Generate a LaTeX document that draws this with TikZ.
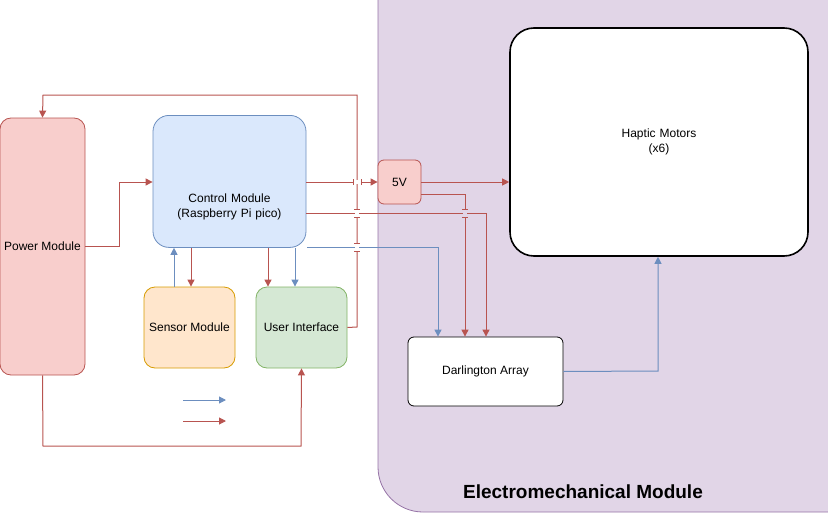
\documentclass[tikz,border=0pt]{standalone}
\usepackage{fontspec}
\setmainfont{Liberation Sans}
\usetikzlibrary{arrows.meta}
\definecolor{rd}{HTML}{B85450}
\definecolor{rdbg}{HTML}{F8CECC}
\definecolor{bl}{HTML}{6C8EBF}
\definecolor{blbg}{HTML}{DAE8FC}
\definecolor{pu}{HTML}{9673A6}
\definecolor{pubg}{HTML}{E1D5E7}
\definecolor{or}{HTML}{D79B00}
\definecolor{orbg}{HTML}{FFE6CC}
\definecolor{gr}{HTML}{82B366}
\definecolor{grbg}{HTML}{D5E8D4}
\tikzset{
 box/.style={draw,rounded corners=11pt,line width=0.8pt,font=\fontsize{12}{15}\selectfont,align=center,inner sep=0},
 rl/.style={draw=rd,line width=1pt,-{Triangle[length=7pt,width=7pt]}},
 bll/.style={draw=bl,line width=1pt,-{Triangle[length=7pt,width=7pt]}},
}
\newcommand{\vgap}[3]{%
 \fill[#3] (#1-2,#2-4) rectangle (#1+2,#2+4);
 \draw[rd,line width=1pt] (#1-3,#2-4)--(#1+3,#2-4) (#1-3,#2+4)--(#1+3,#2+4);}
\newcommand{\hgap}[3]{%
 \fill[#3] (#1-4,#2-2) rectangle (#1+4,#2+2);
 \draw[rd,line width=1pt] (#1-4,#2-3)--(#1-4,#2+3) (#1+4,#2-3)--(#1+4,#2+3);}
\begin{document}
\begin{tikzpicture}[x=1pt,y=-1pt]
\useasboundingbox (0,0) rectangle (828,514);
\begin{scope}
\clip (0,0) rectangle (828,514);
\draw[pu,fill=pubg,line width=0.8pt,rounded corners=45pt] (378,-60) rectangle (890,512);
\end{scope}
\node[font=\bfseries\fontsize{19}{22}\selectfont] (emt) at (583,492) {Electromechanical Module};
\node[box,draw=black,fill=white,line width=1.6pt,rounded corners=24pt,minimum width=298pt,minimum height=228pt,text width=200pt] (hap) at (659,142) {Haptic Motors\\(x6)};
\node[box,draw=rd,fill=rdbg,rounded corners=6pt,minimum width=43pt,minimum height=44pt] (v5) at (399.5,182) {5V};
\node[box,draw=black,fill=white,rounded corners=6pt,minimum width=155pt,minimum height=69pt] (dar) at (485.5,371.5) {Darlington Array};
\node[box,draw=rd,fill=rdbg,minimum width=85pt,minimum height=257pt] (pow) at (42.5,246.5) {Power Module};
\node[box,draw=bl,fill=blbg,rounded corners=16pt,minimum width=153pt,minimum height=132pt,text width=150pt,anchor=north] (ctl) at (229.5,115) {\vspace{45pt}\\Control Module\\(Raspberry Pi pico)};
\node[box,draw=or,fill=orbg,minimum width=91pt,minimum height=81pt] (sen) at (189.5,327.5) {Sensor Module};
\node[box,draw=gr,fill=grbg,minimum width=91pt,minimum height=81pt] (ui) at (301.5,327.5) {User Interface};
% connectors
\draw[rl] (pow.east|-0,246) -- (119,246) -- (119,182) -- (ctl.west|-0,182);
\draw[rl] (pow.south) -- (43,446) -- (301,446) -- (ui.south);
\draw[rl] (ui.east) -- (357,327) -- (357,95) -- (43,95) -- (pow.north);
\draw[rl] (ctl.east|-0,182) -- (v5.west);
\draw[rl] (v5.east) -- (hap.west|-0,182);
\draw[rl] (v5.east|-0,194) -- (465,194) -- (dar.north-|465,0);
\draw[rl] (ctl.east|-0,213) -- (486,213) -- (dar.north-|486,0);
\draw[bll] (307,247) -- (438,247) -- (dar.north-|438,0);
\draw[bll] (sen.north-|174,0) -- (ctl.south-|174,0);
\draw[rl] (ctl.south-|191,0) -- (sen.north-|191,0);
\draw[rl] (ctl.south-|268,0) -- (ui.north-|268,0);
\draw[bll] (ctl.south-|295,0) -- (ui.north-|295,0);
\draw[bll] (dar.east) -- (658,371) -- (hap.south-|658,0);
\hgap{357}{182}{white}
\vgap{357}{213}{white}
\vgap{357}{247}{white}
\vgap{465}{213}{pubg}
\coordinate (l1) at (183,400); \coordinate (l2) at (226,400);
\coordinate (l3) at (183,421); \coordinate (l4) at (226,421);
\draw[bll] (l1) -- (l2);
\draw[rl] (l3) -- (l4);
\end{tikzpicture}
\end{document}
